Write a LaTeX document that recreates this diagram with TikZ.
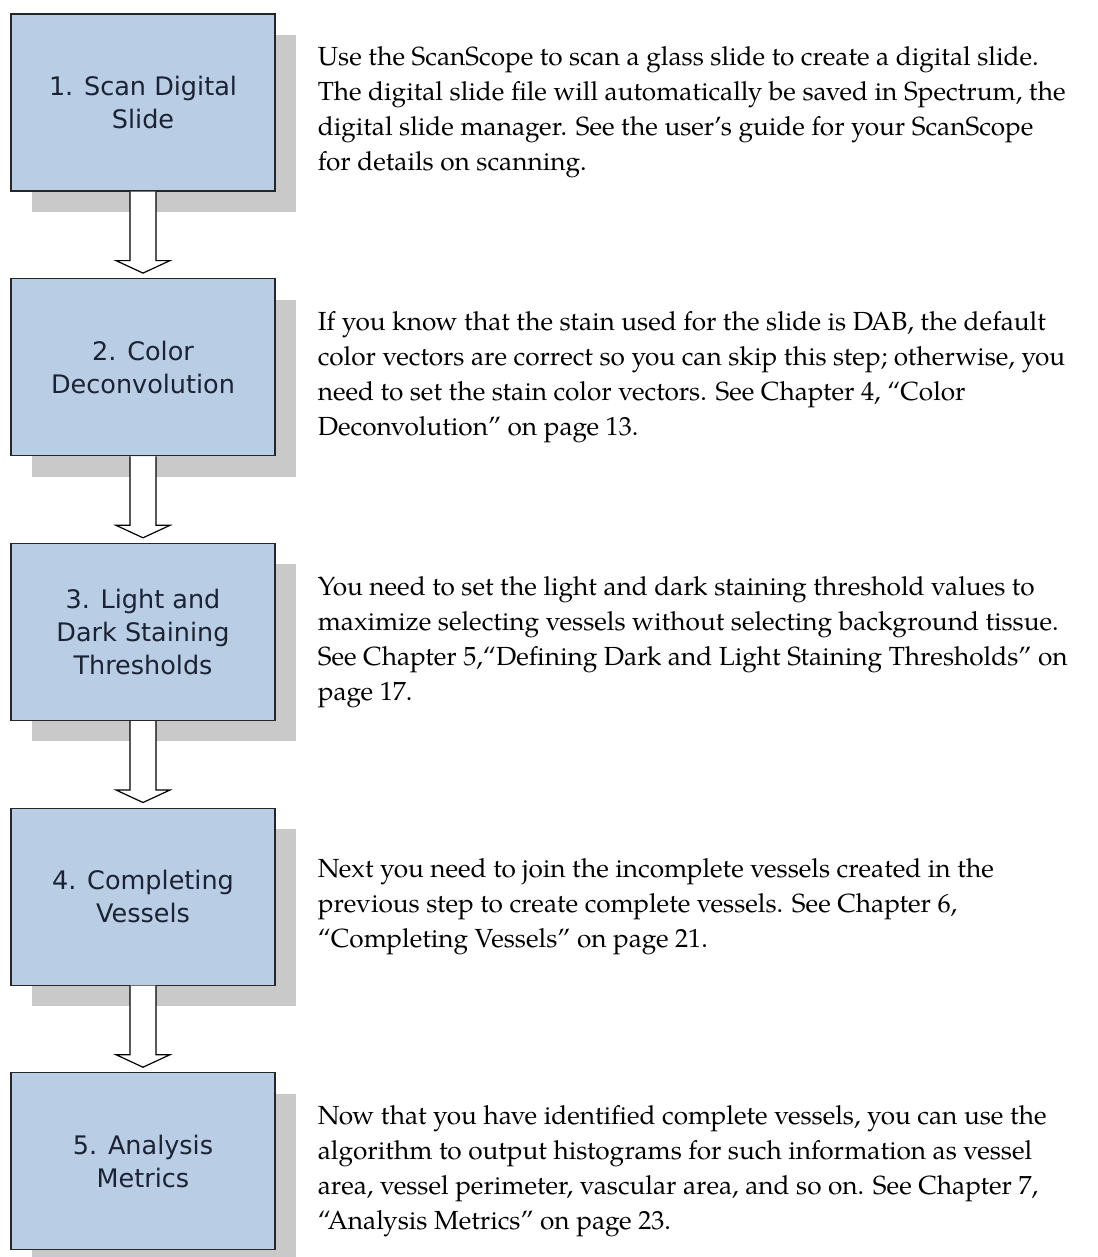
\documentclass[tikz,border=0pt]{standalone}
\usepackage{fontspec}
\usepackage{xcolor}
\usepackage{tikz}
\usetikzlibrary{shadows, positioning, calc}
\newfontfamily\boxfont{DejaVu Sans}
\newfontfamily\descfont{TeX Gyre Pagella}
\definecolor{boxblue}{HTML}{B9CDE5}
\definecolor{boxtext}{HTML}{1B2233}
\definecolor{shadowgray}{HTML}{C9C9C9}
\tikzset{
    stepbox/.style={draw=black!85, line width=1.2pt, rectangle, fill=boxblue, text=boxtext, font=\boxfont\fontsize{25.5}{33}\selectfont, minimum width=264pt, minimum height=177pt, align=center, drop shadow={shadow xshift=21pt, shadow yshift=-21pt, fill=shadowgray, opacity=1}},
    desc/.style={inner sep=0pt, align=left, font=\descfont\fontsize{26.2}{35}\selectfont},
    blockarrow/.style={draw=black, line width=1.2pt, fill=white, line join=miter}
}

\begin{document}
\begin{tikzpicture}[x=1pt, y=-1pt, node distance=86.5pt]
    \useasboundingbox (0,0) rectangle (1097,1257);
    % steps
    \node (s1) [stepbox] at (143,102.5) {1. Scan Digital\\Slide};
    \node (s2) [stepbox, below=of s1] {2. Color\\Deconvolution};
    \node (s3) [stepbox, below=of s2] {3. Light and\\Dark Staining\\Thresholds};
    \node (s4) [stepbox, below=of s3] {4. Completing\\Vessels};
    \node (s5) [stepbox, below=of s4] {5. Analysis\\Metrics};
    % descriptions
    \node (d1) [desc, right=42pt of s1, yshift=-10pt] {Use the ScanScope to scan a glass slide to create a digital slide.\\The digital slide file will automatically be saved in Spectrum, the\\digital slide manager. See the user’s guide for your ScanScope\\for details on scanning.};
    \node (d2) [desc, right=42pt of s2, yshift=-10pt] {If you know that the stain used for the slide is DAB, the default\\color vectors are correct so you can skip this step; otherwise, you\\need to set the stain color vectors. See Chapter 4, “Color\\Deconvolution” on page 13.};
    \node (d3) [desc, right=42pt of s3, yshift=-10pt] {You need to set the light and dark staining threshold values to\\maximize selecting vessels without selecting background tissue.\\See Chapter 5,“Defining Dark and Light Staining Thresholds” on\\page 17.};
    \node (d4) [desc, right=42pt of s4, yshift=-10pt] {Next you need to join the incomplete vessels created in the\\previous step to create complete vessels. See Chapter 6,\\“Completing Vessels” on page 21.};
    \node (d5) [desc, right=42pt of s5, yshift=-10pt] {Now that you have identified complete vessels, you can use the\\algorithm to output histograms for such information as vessel\\area, vessel perimeter, vascular area, and so on. See Chapter 7,\\“Analysis Metrics” on page 23.};
    % hollow arrows
    \foreach \a/\b in {s1/s2, s2/s3, s3/s4, s4/s5} {
        \draw [blockarrow] ($(\a.south)+(-13,0)$) -- ($(\a.south)+(-13,69)$) -- ($(\a.south)+(-27,69)$)
            -- ($(\b.north)+(0,-5)$) -- ($(\a.south)+(27,69)$) -- ($(\a.south)+(13,69)$) -- ($(\a.south)+(13,0)$);
    }
\end{tikzpicture}
\end{document}
